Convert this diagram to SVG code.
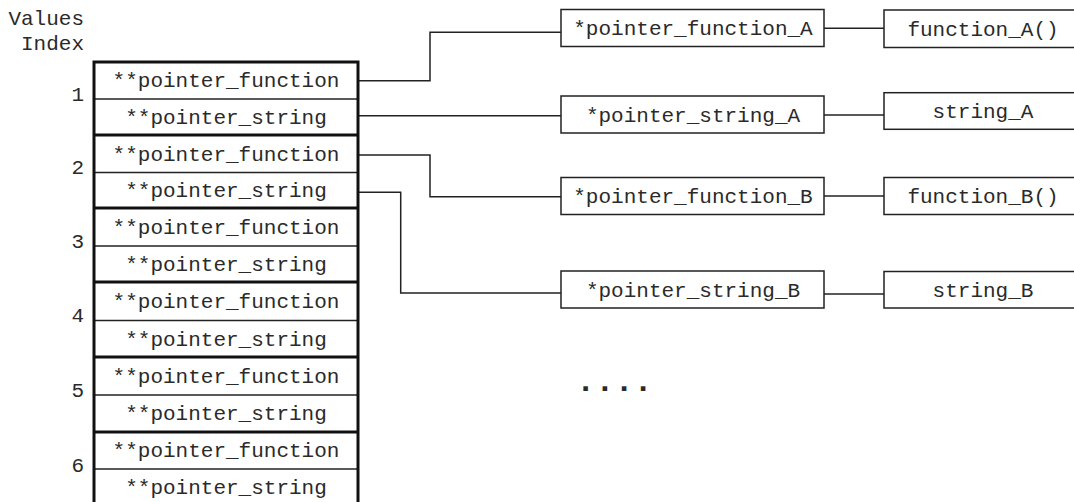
<svg xmlns="http://www.w3.org/2000/svg" width="1074" height="502" viewBox="0 0 1074 502">
  <style>
    text { font-family: "Courier New", "Nimbus Mono PS", "FreeMono", "Liberation Mono", monospace; font-size: 21px; fill: #2a2a2a; }
    .mid { text-anchor: middle; }
    .end { text-anchor: end; }
    .box { fill: #fff; stroke: #222; stroke-width: 1.5; }
    .thick { stroke: #111; stroke-width: 3; fill: none; }
    .thin { stroke: #222; stroke-width: 1.5; fill: none; }
    .wire { stroke: #222; stroke-width: 1.5; fill: none; }
  </style>

  <!-- header labels -->
  <g id="header">
    <text class="end" x="84" y="25">Values</text>
    <text class="end" x="84" y="50">Index</text>
  </g>

  <!-- connectors -->
  <g id="connectors">
    <path class="wire" d="M358,80.7 H430 V32.3 H561"/>
    <path class="wire" d="M358,115.7 H561"/>
    <path class="wire" d="M358,155 H430 V196.7 H561"/>
    <path class="wire" d="M358,192.3 H400.7 V293 H561"/>
    <path class="wire" d="M824,28.3 H884"/>
    <path class="wire" d="M824,115 H884"/>
    <path class="wire" d="M824,196 H884"/>
    <path class="wire" d="M824,294 H884"/>
  </g>

  <!-- array of pointer pairs -->
  <g id="array">
    <rect x="94" y="62" width="264" height="460" fill="#fff" stroke="none"/>
    <line class="thin" x1="94" y1="99" x2="358" y2="99"/>
    <line class="thin" x1="94" y1="172.5" x2="358" y2="172.5"/>
    <line class="thin" x1="94" y1="246" x2="358" y2="246"/>
    <line class="thin" x1="94" y1="320.5" x2="358" y2="320.5"/>
    <line class="thin" x1="94" y1="395" x2="358" y2="395"/>
    <line class="thin" x1="94" y1="469" x2="358" y2="469"/>
    <line class="thick" x1="94" y1="135" x2="358" y2="135"/>
    <line class="thick" x1="94" y1="208" x2="358" y2="208"/>
    <line class="thick" x1="94" y1="282" x2="358" y2="282"/>
    <line class="thick" x1="94" y1="357" x2="358" y2="357"/>
    <line class="thick" x1="94" y1="432" x2="358" y2="432"/>
    <rect class="thick" x="94" y="62" width="264" height="460"/>
  </g>

  <g id="entry1">
    <text class="end" x="84" y="101">1</text>
    <text class="mid" x="226" y="87">**pointer_function</text>
    <text class="mid" x="226" y="123.5">**pointer_string</text>
  </g>
  <g id="entry2">
    <text class="end" x="84" y="174">2</text>
    <text class="mid" x="226" y="160.5">**pointer_function</text>
    <text class="mid" x="226" y="197">**pointer_string</text>
  </g>
  <g id="entry3">
    <text class="end" x="84" y="247.5">3</text>
    <text class="mid" x="226" y="233.5">**pointer_function</text>
    <text class="mid" x="226" y="270.5">**pointer_string</text>
  </g>
  <g id="entry4">
    <text class="end" x="84" y="322">4</text>
    <text class="mid" x="226" y="308">**pointer_function</text>
    <text class="mid" x="226" y="345.5">**pointer_string</text>
  </g>
  <g id="entry5">
    <text class="end" x="84" y="397">5</text>
    <text class="mid" x="226" y="382.5">**pointer_function</text>
    <text class="mid" x="226" y="420">**pointer_string</text>
  </g>
  <g id="entry6">
    <text class="end" x="84" y="471.5">6</text>
    <text class="mid" x="226" y="457">**pointer_function</text>
    <text class="mid" x="226" y="494">**pointer_string</text>
  </g>

  <!-- pointer targets -->
  <g id="pointer_function_A">
    <rect class="box" x="561" y="9.5" width="263" height="37"/>
    <text class="mid" x="693" y="35">*pointer_function_A</text>
  </g>
  <g id="pointer_string_A">
    <rect class="box" x="561" y="96" width="263" height="37"/>
    <text class="mid" x="693" y="121.5">*pointer_string_A</text>
  </g>
  <g id="pointer_function_B">
    <rect class="box" x="561" y="177.5" width="263" height="37"/>
    <text class="mid" x="693" y="203">*pointer_function_B</text>
  </g>
  <g id="pointer_string_B">
    <rect class="box" x="561" y="271" width="263" height="37"/>
    <text class="mid" x="693" y="296.5">*pointer_string_B</text>
  </g>

  <!-- values -->
  <g id="function_A">
    <rect class="box" x="884" y="10" width="200" height="37.5"/>
    <text class="mid" x="983" y="35.5">function_A()</text>
  </g>
  <g id="string_A">
    <rect class="box" x="884" y="92.7" width="200" height="36.6"/>
    <text class="mid" x="983" y="117.5">string_A</text>
  </g>
  <g id="function_B">
    <rect class="box" x="884" y="177.5" width="200" height="37"/>
    <text class="mid" x="983" y="203">function_B()</text>
  </g>
  <g id="string_B">
    <rect class="box" x="884" y="271.5" width="200" height="36.5"/>
    <text class="mid" x="983" y="296.5">string_B</text>
  </g>

  <!-- continuation -->
  <g id="ellipsis">
    <text x="576" y="391" style="font-size:32px;font-weight:bold">....</text>
  </g>
</svg>
